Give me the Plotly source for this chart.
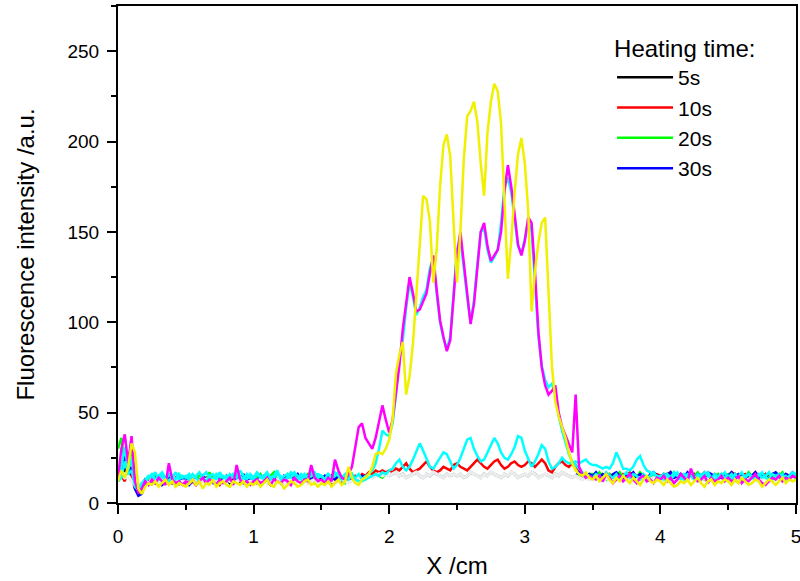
import plotly.graph_objects as go

# sampling grid (cm)
x_cm = [round(i * 0.025, 3) for i in range(201)]

# ---- series values (a.u.) ----
y_5s = ([14, 20, 18, 22, 16, 9, 6, 10, 13, 12, 14, 11, 13, 15, 12, 14, 13, 11, 14, 12]
        + [13, 15, 12, 14, 11, 13, 14, 12, 15, 13, 12, 14, 13, 11, 14, 15, 12, 13, 14, 12]
        + [13, 12, 14, 15, 13, 12, 14, 13, 11, 14, 13, 15, 12, 14, 13, 12, 14, 13, 15, 12]
        + [14, 13, 12, 15, 13, 14, 12, 13, 15, 14, 13, 14, 13, 14, 15, 14, 15, 16, 15, 16]
        + [15, 16, 17, 15, 16, 14, 15, 16, 17, 15, 14, 16, 15, 17, 16, 15, 14, 16, 15, 16]
        + [15, 16, 14, 15, 17, 16, 15, 14, 16, 15, 17, 16, 15, 14, 16, 15, 17, 16, 14, 15]
        + [16, 15, 17, 16, 14, 15, 16, 15, 14, 16, 15, 17, 16, 15, 14, 15, 15, 14, 15, 16]
        + [15, 16, 14, 15, 16, 15, 14, 16, 15, 14, 15, 16, 14, 15, 16, 15, 14, 15, 16, 14]
        + [15, 14, 16, 15, 14, 15, 16, 14, 15, 14, 16, 15, 14, 15, 16, 14, 15, 14, 16, 15]
        + [14, 15, 16, 14, 15, 14, 16, 15, 14, 15, 14, 16, 15, 14, 15, 16, 14, 15, 14, 15, 14])

y_10s = ([13, 15, 12, 20, 14, 8, 5, 9, 12, 13, 15, 12, 10, 13, 14, 11, 12, 14, 10, 13]
         + [11, 14, 12, 10, 13, 12, 14, 11, 13, 12, 10, 13, 14, 12, 11, 13, 12, 14, 11, 12]
         + [13, 11, 12, 14, 12, 10, 13, 12, 14, 11, 12, 13, 11, 14, 12, 13, 11, 12, 14, 13]
         + [12, 14, 13, 11, 13, 15, 13, 12, 14, 13, 15, 14, 16, 15, 17, 16, 18, 17, 18, 17]
         + [18, 17, 19, 18, 20, 22, 19, 17, 18, 19, 21, 23, 20, 18, 17, 18, 20, 19, 18, 21]
         + [22, 20, 19, 18, 20, 22, 24, 22, 20, 19, 21, 23, 24, 21, 19, 20, 22, 23, 21, 20]
         + [21, 23, 22, 20, 22, 24, 22, 18, 17, 20, 22, 23, 21, 20, 22, 21, 18, 16, 15, 14]
         + [15, 14, 16, 15, 14, 16, 15, 13, 14, 16, 15, 17, 15, 14, 16, 15, 14, 13, 15, 16]
         + [15, 14, 16, 17, 15, 14, 16, 15, 13, 15, 16, 14, 15, 17, 15, 14, 16, 15, 14, 16]
         + [15, 17, 16, 14, 15, 16, 14, 15, 17, 15, 14, 16, 15, 14, 16, 15, 14, 16, 15, 14, 15])

y_20s = ([30, 36, 22, 18, 33, 10, 6, 8, 11, 14, 13, 16, 12, 14, 11, 15, 13, 12, 16, 14]
         + [12, 15, 13, 11, 16, 14, 12, 17, 13, 11, 14, 12, 15, 13, 16, 12, 14, 11, 13, 15]
         + [12, 14, 16, 13, 11, 15, 17, 13, 12, 14, 16, 12, 13, 15, 11, 14, 16, 13, 12, 14]
         + [15, 13, 16, 12, 14, 15, 13, 11, 14, 16, 13, 15, 14, 13, 15, 14, 16, 15, 14, 16]
         + [15, 16, 17, 15, 16, 14, 15, 16, 17, 15, 14, 16, 15, 17, 16, 15, 14, 16, 15, 16]
         + [15, 16, 14, 15, 17, 16, 15, 14, 16, 15, 17, 16, 15, 14, 16, 15, 17, 16, 14, 15]
         + [16, 15, 17, 16, 14, 15, 16, 15, 14, 16, 15, 17, 16, 15, 14, 15, 16, 14, 15, 16]
         + [16, 14, 17, 15, 13, 16, 14, 15, 17, 14, 13, 16, 15, 14, 17, 15, 13, 14, 16, 15]
         + [14, 16, 13, 15, 17, 14, 15, 13, 16, 14, 15, 17, 14, 13, 16, 15, 14, 16, 13, 15]
         + [16, 14, 15, 13, 16, 14, 17, 15, 13, 14, 16, 15, 14, 16, 13, 15, 17, 14, 15, 13, 14])

y_30s = ([12, 16, 26, 14, 20, 8, 4, 5, 10, 12, 11, 14, 13, 10, 12, 15, 11, 13, 12, 14]
         + [13, 10, 12, 14, 11, 15, 13, 12, 11, 14, 12, 13, 15, 12, 11, 14, 13, 16, 12, 13]
         + [14, 12, 15, 13, 16, 12, 14, 13, 11, 15, 13, 12, 14, 16, 13, 12, 15, 13, 14, 12]
         + [13, 15, 12, 14, 13, 15, 12, 14, 13, 15, 14, 13, 15, 14, 15, 14, 15, 16, 15, 16]
         + [15, 16, 17, 15, 16, 14, 15, 16, 17, 15, 14, 16, 15, 17, 16, 15, 14, 16, 15, 16]
         + [15, 16, 14, 15, 17, 16, 15, 14, 16, 15, 17, 16, 15, 14, 16, 15, 17, 16, 14, 15]
         + [16, 15, 17, 16, 14, 15, 16, 15, 14, 16, 15, 17, 16, 15, 14, 15, 17, 15, 14, 16]
         + [15, 17, 14, 16, 15, 13, 16, 17, 15, 14, 16, 15, 17, 14, 16, 15, 13, 16, 17, 15]
         + [14, 16, 15, 17, 13, 15, 16, 14, 17, 15, 13, 16, 15, 14, 17, 16, 14, 15, 13, 16]
         + [15, 17, 14, 16, 15, 13, 16, 15, 17, 14, 16, 15, 13, 16, 17, 15, 14, 16, 15, 17, 15])

y_gray = ([13, 16, 14, 15, 12, 10, 9, 11, 12, 11, 13, 12, 11, 13, 12, 11, 12, 13, 11, 12]
          + [12, 11, 13, 12, 11, 12, 13, 11, 12, 13, 11, 12, 13, 12, 11, 12, 13, 12, 11, 12]
          + [11, 12, 13, 12, 11, 12, 11, 13, 12, 11, 12, 13, 11, 12, 13, 12, 11, 12, 13, 12]
          + [12, 11, 13, 12, 11, 12, 13, 12, 11, 12, 13, 14, 13, 14, 15, 14, 15, 16, 15, 16]
          + [15, 16, 17, 15, 16, 14, 15, 16, 17, 15, 14, 16, 15, 17, 16, 15, 14, 16, 15, 16]
          + [15, 16, 14, 15, 17, 16, 15, 14, 16, 15, 17, 16, 15, 14, 16, 15, 17, 16, 14, 15]
          + [16, 15, 17, 16, 14, 15, 16, 15, 14, 16, 15, 17, 16, 15, 14, 15, 14, 13, 14, 13]
          + [13, 14, 13, 12, 14, 13, 12, 14, 13, 12, 13, 14, 12, 13, 14, 13, 12, 13, 14, 13]
          + [12, 13, 14, 13, 12, 13, 14, 12, 13, 14, 13, 12, 13, 14, 12, 13, 14, 13, 12, 13]
          + [14, 13, 12, 13, 14, 12, 13, 14, 13, 12, 13, 14, 12, 13, 14, 13, 12, 13, 14, 13, 12])

y_cyan_b = ([12, 14, 23, 16, 18, 10, 8, 11, 13, 15, 14, 17, 13, 15, 12, 16, 14, 17, 13, 15]
            + [14, 16, 13, 15, 17, 14, 12, 15, 16, 13, 17, 14, 15, 13, 16, 14, 18, 15, 13, 16]
            + [14, 17, 15, 13, 16, 14, 15, 18, 13, 15, 16, 14, 17, 15, 13, 16, 14, 15, 17, 14]
            + [15, 13, 16, 14, 17, 15, 13, 15, 14, 16, 13, 12, 12, 13, 14, 15, 16, 15, 17, 16]
            + [18, 19, 22, 24, 20, 18, 20, 24, 29, 33, 29, 24, 20, 19, 22, 25, 28, 27, 23, 19]
            + [21, 25, 30, 35, 36, 30, 26, 23, 24, 28, 32, 36, 33, 28, 25, 24, 27, 31, 37, 36]
            + [29, 24, 20, 23, 27, 32, 30, 23, 19, 20, 22, 25, 23, 22, 22, 23, 22, 23, 24, 22]
            + [21, 21, 20, 19, 20, 19, 22, 28, 24, 19, 19, 18, 20, 24, 26, 21, 18, 17, 16, 15]
            + [14, 16, 15, 13, 15, 17, 14, 13, 16, 15, 14, 13, 16, 15, 17, 14, 13, 15, 16, 14]
            + [15, 13, 16, 14, 13, 15, 16, 14, 13, 15, 17, 14, 13, 16, 15, 14, 16, 13, 15, 17, 16])

y_cyan_a = ([13, 20, 31, 18, 25, 9, 7, 10, 12, 14, 16, 13, 15, 17, 14, 12, 15, 13, 16, 14]
            + [15, 13, 16, 14, 12, 15, 17, 14, 13, 16, 14, 15, 13, 16, 14, 17, 15, 13, 16, 14]
            + [13, 16, 14, 15, 17, 13, 14, 16, 15, 13, 14, 17, 15, 13, 16, 14, 15, 17, 14, 16]
            + [15, 13, 16, 14, 15, 17, 14, 16, 13, 15, 14, 16, 13, 15, 16, 18, 22, 30, 40, 38]
            + [37, 44, 60, 80, 90, 108, 122, 114, 104, 108, 114, 118, 130, 135, 116, 100, 91, 85, 92, 118]
            + [140, 146, 128, 114, 100, 112, 132, 150, 152, 140, 133, 136, 140, 155, 175, 180, 172, 158, 142, 138]
            + [146, 156, 150, 122, 92, 76, 68, 64, 66, 60, 48, 40, 34, 27, 23, 21, 19, 17, 16, 15]
            + [14, 16, 15, 13, 17, 15, 14, 16, 13, 15, 17, 14, 16, 15, 13, 16, 14, 15, 17, 14]
            + [15, 13, 16, 14, 17, 15, 13, 16, 14, 15, 13, 16, 14, 17, 15, 13, 16, 14, 15, 17]
            + [14, 16, 13, 15, 17, 14, 16, 15, 13, 16, 14, 15, 17, 13, 15, 16, 14, 15, 13, 16, 15])

y_magenta = ([14, 30, 38, 22, 37, 12, 6, 8, 12, 10, 13, 11, 14, 12, 10, 22, 13, 11, 12, 10]
             + [12, 11, 13, 10, 12, 14, 11, 13, 12, 10, 13, 11, 12, 14, 10, 21, 13, 11, 12, 10]
             + [12, 13, 11, 12, 14, 10, 13, 12, 11, 13, 12, 10, 14, 12, 11, 13, 12, 21, 14, 12]
             + [13, 11, 14, 12, 24, 18, 14, 13, 16, 20, 30, 42, 44, 36, 33, 30, 36, 45, 54, 46]
             + [39, 46, 62, 76, 96, 112, 125, 116, 106, 107, 112, 116, 127, 137, 118, 101, 92, 84, 90, 115]
             + [138, 150, 132, 116, 99, 110, 130, 150, 155, 142, 134, 137, 140, 150, 172, 187, 175, 160, 143, 137]
             + [145, 158, 155, 128, 95, 75, 65, 60, 62, 65, 50, 42, 37, 32, 28, 60, 20, 16, 14, 15]
             + [14, 13, 15, 12, 16, 14, 11, 13, 15, 12, 14, 16, 13, 11, 14, 15, 12, 13, 11, 14]
             + [13, 15, 12, 14, 11, 13, 16, 14, 12, 19, 14, 12, 13, 15, 11, 14, 12, 13, 15, 12]
             + [14, 12, 13, 15, 11, 13, 12, 14, 16, 13, 11, 10, 12, 14, 13, 15, 12, 14, 13, 15, 14])

y_yellow = ([12, 18, 14, 20, 33, 28, 8, 5, 9, 11, 10, 12, 9, 11, 13, 10, 12, 9, 11, 10]
            + [9, 11, 13, 10, 12, 8, 11, 10, 13, 9, 11, 12, 10, 9, 12, 11, 10, 12, 9, 11]
            + [10, 12, 9, 11, 13, 10, 9, 12, 11, 8, 10, 12, 11, 9, 10, 12, 13, 10, 11, 9]
            + [11, 10, 12, 9, 11, 13, 10, 12, 20, 14, 11, 10, 13, 14, 16, 20, 27, 28, 27, 30]
            + [35, 46, 72, 82, 89, 60, 70, 88, 115, 145, 170, 168, 156, 122, 140, 175, 198, 204, 192, 155]
            + [122, 150, 190, 214, 217, 222, 211, 188, 170, 205, 222, 232, 228, 210, 168, 124, 145, 172, 193, 202]
            + [188, 162, 106, 128, 144, 155, 158, 118, 76, 56, 48, 42, 36, 28, 22, 18, 16, 15, 17, 14]
            + [13, 15, 12, 14, 16, 13, 11, 14, 12, 15, 13, 11, 14, 12, 10, 13, 15, 12, 11, 13]
            + [12, 10, 13, 11, 9, 10, 12, 11, 13, 10, 12, 14, 11, 9, 12, 13, 10, 12, 11, 13]
            + [12, 10, 13, 11, 14, 12, 10, 11, 13, 12, 9, 11, 13, 12, 10, 12, 14, 11, 13, 12, 13])

legend_names = ["5s", "10s", "20s", "30s"]
x_ticks = [0, 1, 2, 3, 4, 5]
y_ticks = [0, 50, 100, 150, 200, 250]

for s in (y_5s, y_10s, y_20s, y_30s, y_gray, y_cyan_b, y_cyan_a, y_magenta, y_yellow):
    assert len(s) == len(x_cm), len(s)

FONT = "Liberation Sans, Arial, sans-serif"

series = [
    (y_5s, "#000000", legend_names[0], True, 2.5),
    (y_10s, "#FF0000", legend_names[1], True, 2.5),
    (y_20s, "#00FF00", legend_names[2], True, 2.5),
    (y_30s, "#0000FF", legend_names[3], True, 2.5),
    (y_gray, "#EBEBEB", "", False, 3.5),
    (y_cyan_b, "#00FFFF", "", False, 2.5),
    (y_cyan_a, "#00FFFF", "", False, 2.5),
    (y_magenta, "#FF00FF", "", False, 2.5),
    (y_yellow, "#F0F000", "", False, 2.5),
]

fig = go.Figure()
for ys, col, name, show, w in series:
    fig.add_trace(go.Scatter(x=x_cm, y=ys, mode="lines", name=name, showlegend=show,
                             line=dict(color=col, width=w), hoverinfo="skip"))

axis_common = dict(
    showline=True, linecolor="black", linewidth=2, mirror=True,
    ticks="outside", ticklen=9, tickwidth=2, tickcolor="black",
    showgrid=False, zeroline=False, automargin=False, ticklabeloverflow="allow",
    tickfont=dict(family=FONT, size=19, color="black"),
)

fig.update_layout(
    width=800, height=581,
    margin=dict(l=118, r=4, t=6, b=78),
    paper_bgcolor="white", plot_bgcolor="white",
    font=dict(family=FONT, color="black"),
    xaxis=dict(range=[0, 5], tickvals=x_ticks, ticklabelstandoff=6,
               minor=dict(ticks="outside", ticklen=5, tickwidth=2, tickcolor="black", dtick=0.5),
               title=dict(text="X /cm", font=dict(family=FONT, size=24), standoff=11),
               **axis_common),
    yaxis=dict(range=[0, 275], tickvals=y_ticks, ticklabelstandoff=4,
               minor=dict(ticks="outside", ticklen=5, tickwidth=2, tickcolor="black", dtick=25),
               title=dict(text="Fluorescence intensity /a.u.", font=dict(family=FONT, size=24), standoff=26),
               **axis_common),
    legend=dict(x=0.7287, y=0.96, xanchor="left", yanchor="top",
                bgcolor="rgba(0,0,0,0)", borderwidth=0,
                font=dict(family=FONT, size=21, color="black"),
                title=dict(text="Heating time:", font=dict(family=FONT, size=24)),
                itemwidth=56, tracegroupgap=0),
)

fig.write_html("out.html")
